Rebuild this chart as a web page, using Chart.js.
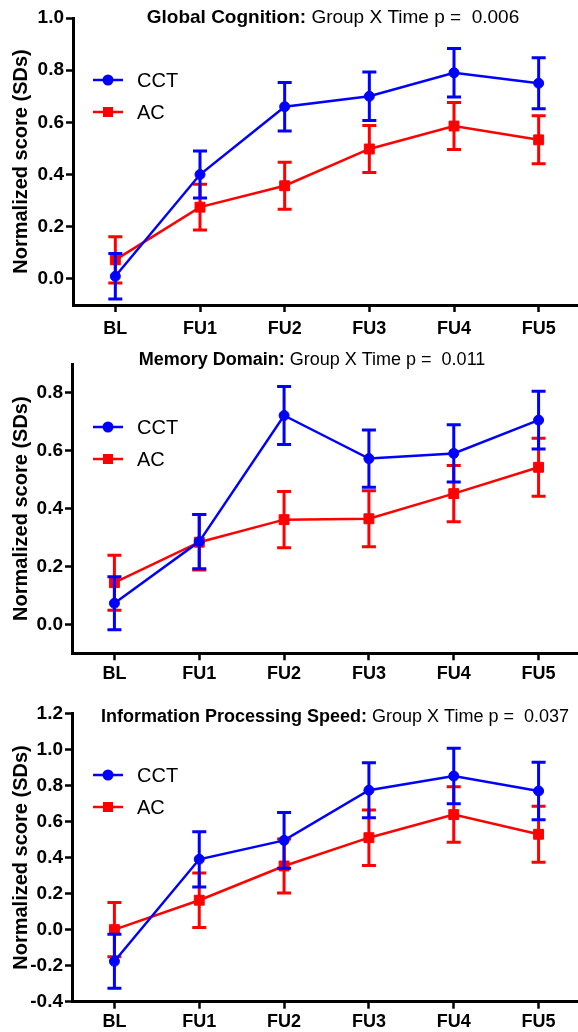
<!DOCTYPE html>
<html>
<head>
<meta charset="utf-8">
<script src="https://cdn.jsdelivr.net/npm/chart.js@4.4.0/dist/chart.umd.min.js"></script>
<style>
html, body { margin: 0; padding: 0; background: #fff; overflow: hidden; width: 578px; height: 1032px; }
canvas { position: absolute; left: 0; }
</style>
</head>
<body>
<canvas id="globalChart" width="589" height="340" style="top:0px"></canvas>
<canvas id="memoryChart" width="589" height="345" style="top:340px"></canvas>
<canvas id="speedChart" width="589" height="347" style="top:685px"></canvas>
<script>
const timepoints = ['BL', 'FU1', 'FU2', 'FU3', 'FU4', 'FU5']

// Global cognition: means and standard errors per group
const globalCct = [0.01, 0.40, 0.66, 0.70, 0.79, 0.75]
const globalCctSe = [0.087, 0.09, 0.093, 0.093, 0.093, 0.098]
const globalAc = [0.073, 0.275, 0.357, 0.498, 0.586, 0.533]
const globalAcSe = [0.089, 0.088, 0.09, 0.09, 0.09, 0.092]

// Memory domain
const memoryCct = [0.073, 0.286, 0.722, 0.573, 0.591, 0.706]
const memoryCctSe = [0.092, 0.094, 0.1, 0.099, 0.099, 0.1]
const memoryAc = [0.144, 0.284, 0.362, 0.365, 0.452, 0.543]
const memoryAcSe = [0.095, 0.096, 0.097, 0.097, 0.097, 0.1]

// Information processing speed
const speedCct = [-0.176, 0.39, 0.495, 0.773, 0.852, 0.769]
const speedCctSe = [0.15, 0.153, 0.154, 0.153, 0.154, 0.16]
const speedAc = [0.0, 0.163, 0.353, 0.51, 0.638, 0.529]
const speedAcSe = [0.15, 0.151, 0.15, 0.154, 0.154, 0.155]

const font = "Arial, 'Liberation Sans', sans-serif"
const blue = '#0000ff'
const red = '#ff0000'
const step = 0.2

// vertical error bars with caps, drawn right after each dataset
const errorBars = {
    id: 'errorBars',
    afterDatasetDraw(chart, args) {
        const ds = chart.data.datasets[args.index]
        const y = chart.scales.y
        const ctx = chart.ctx
        ctx.save()
        ctx.strokeStyle = ds.borderColor
        ctx.lineWidth = 3
        args.meta.data.forEach((pt, j) => {
            const hi = y.getPixelForValue(ds.data[j] + ds.errors[j])
            const lo = y.getPixelForValue(ds.data[j] - ds.errors[j])
            ctx.beginPath()
            ctx.moveTo(pt.x, hi); ctx.lineTo(pt.x, lo)
            ctx.moveTo(pt.x - 7, hi); ctx.lineTo(pt.x + 7, hi)
            ctx.moveTo(pt.x - 7, lo); ctx.lineTo(pt.x + 7, lo)
            ctx.stroke()
        })
        ctx.restore()
    }
}

// title with a bold domain name followed by the p value
const panelTitle = {
    id: 'panelTitle',
    afterDraw(chart, args, opts) {
        const ctx = chart.ctx
        const size = opts.size + 'px '
        ctx.save()
        ctx.fillStyle = '#000'
        ctx.textBaseline = 'middle'
        ctx.font = 'bold ' + size + font
        const w1 = ctx.measureText(opts.bold).width
        ctx.font = size + font
        const w2 = ctx.measureText(opts.rest).width
        const x0 = opts.x - (w1 + w2) / 2
        ctx.font = 'bold ' + size + font
        ctx.fillText(opts.bold, x0, opts.y)
        ctx.font = size + font
        ctx.fillText(opts.rest, x0 + w1, opts.y)
        ctx.restore()
    }
}

// legend placed inside the plot area
const insideLegend = {
    id: 'insideLegend',
    afterDraw(chart, args, opts) {
        const ctx = chart.ctx
        ctx.save()
        chart.data.datasets.forEach((ds, i) => {
            const y = opts.y + i * opts.gap
            const x = opts.x
            ctx.strokeStyle = ds.borderColor
            ctx.fillStyle = ds.borderColor
            ctx.lineWidth = 2.5
            ctx.beginPath()
            ctx.moveTo(x, y); ctx.lineTo(x + 30, y)
            ctx.stroke()
            if (ds.pointStyle === 'rect') {
                ctx.fillRect(x + 10, y - 5, 10, 10)
            } else {
                ctx.beginPath()
                ctx.arc(x + 15, y, 5.5, 0, Math.PI * 2)
                ctx.fill()
            }
            ctx.fillStyle = '#000'
            ctx.font = '20px ' + font
            ctx.textBaseline = 'middle'
            ctx.fillText(ds.label, x + 44, y + 1)
        })
        ctx.restore()
    }
}

const makePanel = (id, p) => new Chart(document.getElementById(id), {
    type: 'line',
    plugins: [errorBars, panelTitle, insideLegend],
    data: {
        labels: timepoints,
        datasets: [
            {
                label: 'CCT', data: p.cct, errors: p.cctSe,
                borderColor: blue, backgroundColor: blue,
                pointStyle: 'circle', pointRadius: 5, pointBorderWidth: 1,
                borderWidth: 2.5, tension: 0
            },
            {
                label: 'AC', data: p.ac, errors: p.acSe,
                borderColor: red, backgroundColor: red,
                pointStyle: 'rect', pointRadius: 7, pointBorderWidth: 1,
                borderWidth: 2.5, tension: 0
            }
        ]
    },
    options: {
        responsive: false,
        animation: false,
        events: [],
        layout: { padding: { top: p.padTop, left: 0, right: 0, bottom: 0 } },
        scales: {
            x: {
                offset: true,
                afterFit: s => { s.height = p.xHeight },
                ticks: { color: '#000', font: { size: 18, weight: 'bold', family: font }, padding: p.xPad, maxRotation: 0, autoSkip: false },
                border: { color: '#000', width: 3 },
                grid: { offset: false, drawOnChartArea: false, tickLength: 7, tickWidth: 2.5, tickColor: '#000' }
            },
            y: {
                min: p.min,
                max: p.max,
                afterFit: s => { s.width = p.yWidth },
                // ticks only on whole multiples of the step, axis may run past them
                afterBuildTicks: s => {
                    const ticks = []
                    for (let k = Math.ceil(s.min / step - 1e-6); k * step <= s.max + 1e-6; k++) {
                        ticks.push({ value: Math.round(k * step * 10) / 10 })
                    }
                    s.ticks = ticks
                },
                ticks: {
                    color: '#000', padding: 2,
                    font: { size: 19, weight: 'bold', family: font },
                    callback: v => v.toFixed(1)
                },
                border: { color: '#000', width: 3 },
                grid: { drawOnChartArea: false, tickLength: 7, tickWidth: 2.5, tickColor: '#000' },
                title: {
                    display: true, text: 'Normalized score (SDs)', color: '#000',
                    font: { size: 20, weight: 'bold', family: font }, padding: { top: 9, bottom: 0 }
                }
            }
        },
        plugins: {
            legend: { display: false },
            tooltip: { enabled: false },
            panelTitle: { bold: p.titleBold, rest: p.titleRest, x: p.titleX, y: p.titleY, size: p.titleSize },
            insideLegend: { x: 93, y: p.legendY, gap: 32 }
        }
    }
})

makePanel('globalChart', {
    cct: globalCct, cctSe: globalCctSe, ac: globalAc, acSe: globalAcSe,
    min: -0.1, max: 1.0, padTop: 18, xHeight: 35, xPad: 6, yWidth: 73,
    titleBold: 'Global Cognition:', titleRest: ' Group X Time p =  0.006',
    titleX: 333, titleY: 18, titleSize: 19,
    legendY: 80
})

makePanel('memoryChart', {
    cct: memoryCct, cctSe: memoryCctSe, ac: memoryAc, acSe: memoryAcSe,
    min: -0.1, max: 0.9, padTop: 24, xHeight: 31.7, xPad: 3, yWidth: 72,
    titleBold: 'Memory Domain:', titleRest: ' Group X Time p =  0.011',
    titleX: 312, titleY: 20, titleSize: 18,
    legendY: 87
})

makePanel('speedChart', {
    cct: speedCct, cctSe: speedCctSe, ac: speedAc, acSe: speedAcSe,
    min: -0.4, max: 1.2, padTop: 28.3, xHeight: 30.3, xPad: 3, yWidth: 72,
    titleBold: 'Information Processing Speed:', titleRest: ' Group X Time p =  0.037',
    titleX: 335, titleY: 32, titleSize: 18,
    legendY: 90
})
</script>
</body>
</html>
